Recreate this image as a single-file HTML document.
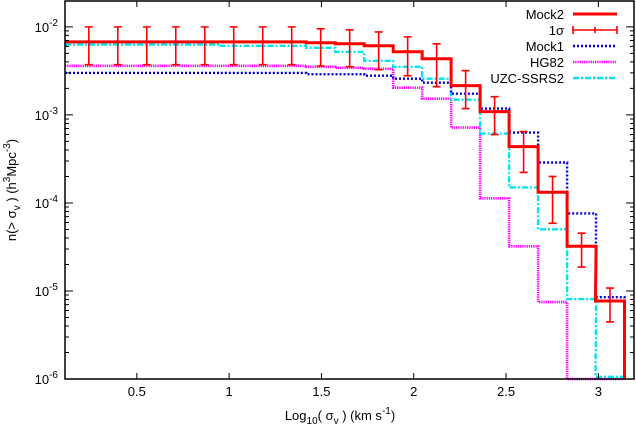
<!DOCTYPE html>
<html><head><meta charset="utf-8"><style>
html,body{margin:0;padding:0;background:#fff;}
svg{display:block;font-family:"Liberation Sans",sans-serif;}
</style></head><body>
<svg id="chart" width="636" height="428" viewBox="0 0 636 428" xmlns="http://www.w3.org/2000/svg">
<g id="marks"></g>
<g id="axes"></g>
<g id="legend"></g>
</svg>
<script>
const binCenters = [0.24,0.397,0.554,0.711,0.868,1.025,1.182,1.339,1.496,1.653,1.81,1.967,2.124,2.281,2.438,2.595,2.752,2.909,3.063];
const mock2 = [6.76e-3,6.76e-3,6.76e-3,6.76e-3,6.76e-3,6.76e-3,6.76e-3,6.76e-3,6.59e-3,6.42e-3,6.09e-3,5.21e-3,4.34e-3,2.15e-3,1.09e-3,4.37e-4,1.32e-4,3.22e-5,7.69e-6];
const errHi = [1e-2,1e-2,1e-2,1e-2,1e-2,1e-2,1e-2,1e-2,9.5e-3,9.25e-3,8.77e-3,7.7e-3,6.42e-3,3.18e-3,1.61e-3,6.47e-4,2.0e-4,4.53e-5,1.08e-5];
const errLo = [3.72e-3,3.72e-3,3.72e-3,3.72e-3,3.72e-3,3.72e-3,3.72e-3,3.72e-3,3.6e-3,3.52e-3,3.26e-3,2.79e-3,2.09e-3,1.18e-3,5.98e-4,2.22e-4,5.87e-5,1.87e-5,4.45e-6];
const mock1 = [3.0e-3,3.0e-3,3.0e-3,3.0e-3,3.0e-3,3.0e-3,3.0e-3,3.0e-3,2.9e-3,2.9e-3,2.79e-3,2.58e-3,2.32e-3,1.74e-3,1.18e-3,6.3e-4,2.88e-4,7.6e-5,8.5e-6];
const hg82 = [3.61e-3,3.61e-3,3.61e-3,3.61e-3,3.61e-3,3.61e-3,3.61e-3,3.61e-3,3.52e-3,3.43e-3,3.34e-3,2.04e-3,1.53e-3,7.18e-4,1.13e-4,3.22e-5,7.48e-6,0,0];
const uzc = [6.3e-3,6.3e-3,6.3e-3,6.3e-3,6.3e-3,6.1e-3,6.1e-3,6.1e-3,5.78e-3,5.21e-3,4.12e-3,3.52e-3,2.58e-3,1.49e-3,6.14e-4,1.50e-4,5.02e-5,8.09e-6,1.06e-6];
const xTicks = [0.5,1,1.5,2,2.5,3];
const xTickLabels = ["0.5","1","1.5","2","2.5","3"];
const yDecades = [-6,-5,-4,-3,-2];

const NS="http://www.w3.org/2000/svg";
const L=65,R=634,T=1,B=379;
const XMIN=0.111,XMAX=3.193;
const YMIN=-6,YMAX=-1.706;
const binW=0.1571;
function sx(v){return L+(v-XMIN)/(XMAX-XMIN)*(R-L);}
function sy(v){if(v<=0)return B;const l=Math.log10(v);return Math.min(B,B-(l-YMIN)/(YMAX-YMIN)*(B-T));}
function mk(tag,attrs,parent){const e=document.createElementNS(NS,tag);for(const k in attrs)e.setAttribute(k,attrs[k]);parent.appendChild(e);return e;}
const marks=document.getElementById('marks');
const axes=document.getElementById('axes');
const legend=document.getElementById('legend');

function stepPath(vals){
  let d="";
  for(let i=0;i<vals.length;i++){
    const x0=i===0?L:sx(binCenters[i]-binW/2), x1=sx(binCenters[i]+binW/2), y=sy(vals[i]);
    d+=(i===0?"M":"L")+x0.toFixed(1)+","+y.toFixed(1)+" L"+x1.toFixed(1)+","+y.toFixed(1)+" ";
  }
  d+="L"+sx(binCenters[vals.length-1]+binW/2).toFixed(1)+","+B;
  return d;
}
function series(vals,color,w,dash,name){
  const p=mk('path',{d:stepPath(vals),fill:'none',stroke:color,'stroke-width':w,'stroke-dasharray':dash||'none'},marks);
  
  
}
series(hg82,'#ff00ff',2.6,'1.3,0.9','hg82-line');
series(uzc,'#00e5ee',2.4,'6,2,2,2','uzc-ssrs2-line');
series(mock1,'#0000dd',2.4,'2,2','mock1-line');
series(mock2,'#ff0000',3,null,'mock2-line');
for(let i=0;i<binCenters.length;i++){
  const x=sx(binCenters[i]),y1=sy(errHi[i]),y2=sy(errLo[i]);
  const g=mk('path',{d:`M${x},${y1} L${x},${y2} M${x-4},${y1} L${x+4},${y1} M${x-4},${y2} L${x+4},${y2}`,stroke:'#ff0000','stroke-width':1.6,fill:'none'},marks);
  
  
}
const fr=mk('rect',{x:L,y:T,width:R-L,height:B-T,fill:'none',stroke:'#000','stroke-width':1.5},axes);


xTicks.forEach((v,i)=>{
  const x=sx(v);
  mk('path',{d:`M${x},${B} L${x},${B-6} M${x},${T} L${x},${T+6}`,stroke:'#000','stroke-width':1},axes);
  const t=mk('text',{x:x,y:B+17,'text-anchor':'middle','font-size':13},axes);
  t.textContent=xTickLabels[i];
  
  
});
yDecades.forEach(d=>{
  const y=sy(Math.pow(10,d));
  mk('path',{d:`M${L},${y} L${L+8},${y} M${R},${y} L${R-8},${y}`,stroke:'#000','stroke-width':1},axes);
  for(let m=2;m<=9;m++){
    const v=m*Math.pow(10,d);
    if(Math.log10(v)>YMAX)break;
    const ym=sy(v);
    mk('path',{d:`M${L},${ym} L${L+4},${ym} M${R},${ym} L${R-4},${ym}`,stroke:'#000','stroke-width':1},axes);
  }
  const t=mk('text',{x:58,y:y+5,'text-anchor':'end','font-size':13},axes);
  t.innerHTML=`10<tspan dy="-6" font-size="10">${d}</tspan>`;
  
  
});
const xt=mk('text',{x:340,y:420,'text-anchor':'middle','font-size':13},axes);
xt.innerHTML='Log<tspan dy="4" font-size="10">10</tspan><tspan dy="-4">( σ</tspan><tspan dy="4" font-size="10">v</tspan><tspan dy="-4"> ) (km s</tspan><tspan dy="-6" font-size="10">-1</tspan><tspan dy="6">)</tspan>';


const yt=mk('text',{x:0,y:0,'text-anchor':'middle','font-size':13,transform:'translate(16,190) rotate(-90)'},axes);
yt.innerHTML='n(&gt; σ<tspan dy="4" font-size="10">v</tspan><tspan dy="-4"> ) (h</tspan><tspan dy="-6" font-size="10">3</tspan><tspan dy="6">Mpc</tspan><tspan dy="-6" font-size="10">-3</tspan><tspan dy="6">)</tspan>';


const legNames=['Mock2','1σ','Mock1','HG82','UZC-SSRS2'];
const legColors=['#ff0000','#ff0000','#0000dd','#ff00ff','#00e5ee'];
const legDash=['none','none','2,2','1.3,0.9','6,2,2,2'];
const legW=[3,1.6,2.4,2.6,2.4];
legNames.forEach((n,i)=>{
  const y=14+i*16;
  const t=mk('text',{x:564,y:y+5,'text-anchor':'end','font-size':13},legend);
  t.textContent=n;
  
  
  let d=`M573,${y} L617,${y}`;
  if(i===1)d+=` M573,${y-4} L573,${y+4} M617,${y-4} L617,${y+4} M595,${y-3} L595,${y+3}`;
  const l=mk('path',{d:d,stroke:legColors[i],'stroke-width':legW[i],'stroke-dasharray':legDash[i],fill:'none'},legend);
  
  
});
</script>
</body></html>
